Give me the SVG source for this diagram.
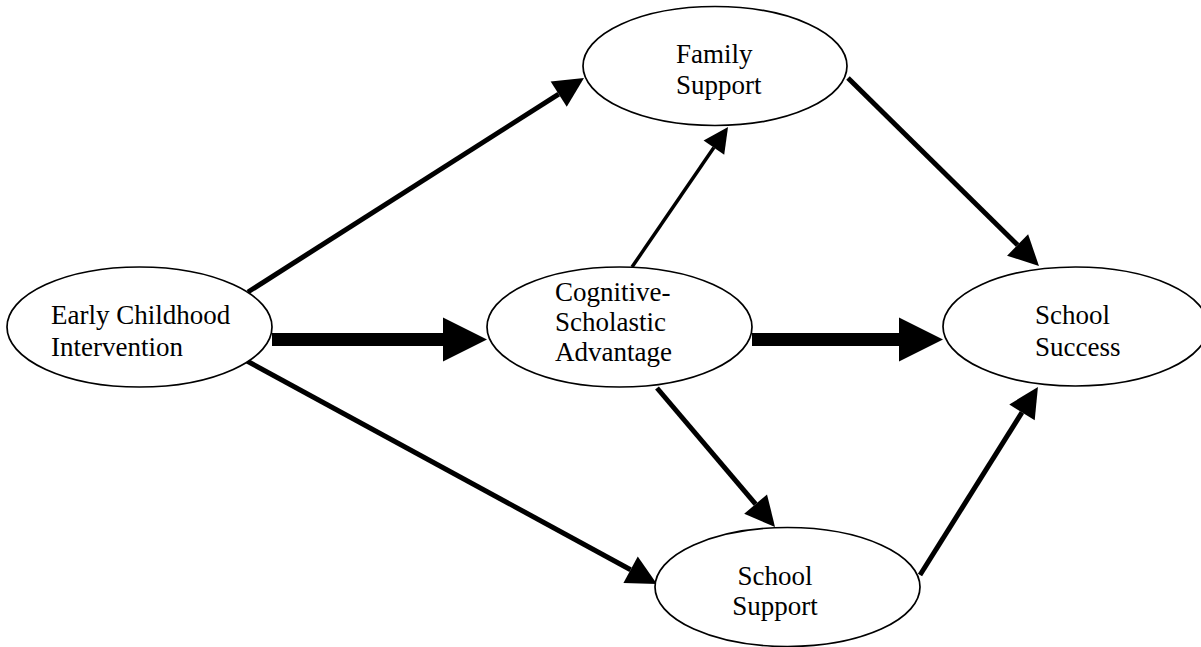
<svg xmlns="http://www.w3.org/2000/svg" width="1201" height="647" viewBox="0 0 1201 647">
<defs>
<style>
.node ellipse{fill:#fff;stroke:#000;stroke-width:1.7}
.node text{font-family:"Liberation Serif","Times New Roman",serif;font-size:27px;fill:#000}
.edge{stroke:#000;fill:none;stroke-linecap:butt}
.med{stroke-width:5;marker-end:url(#head)}
.thin{stroke-width:3.5;marker-end:url(#headS)}
.thick{stroke-width:13;marker-end:url(#headL)}
</style>
<marker id="head" markerUnits="userSpaceOnUse" markerWidth="31" markerHeight="30" refX="0" refY="15" orient="auto" overflow="visible">
<path d="M0,0 L30,15 L0,30 Z" fill="#000"/>
</marker>
<marker id="headS" markerUnits="userSpaceOnUse" markerWidth="26" markerHeight="25" refX="0" refY="12.5" orient="auto" overflow="visible">
<path d="M0,0 L25,12.5 L0,25 Z" fill="#000"/>
</marker>
<marker id="headL" markerUnits="userSpaceOnUse" markerWidth="45" markerHeight="44" refX="0" refY="22" orient="auto" overflow="visible">
<path d="M0,0 L44,22 L0,44 Z" fill="#000"/>
</marker>
</defs>
<rect width="1201" height="647" fill="#fff"/>
<g id="connectors">
<line class="edge med" x1="248" y1="292" x2="558.7" y2="94.1"/>
<line class="edge med" x1="247" y1="361" x2="630.6" y2="569.7"/>
<line class="edge thin" x1="632" y1="267" x2="713.9" y2="147.6"/>
<line class="edge med" x1="657" y1="388" x2="755.6" y2="504.1"/>
<line class="edge med" x1="848" y1="78" x2="1017.6" y2="245"/>
<line class="edge med" x1="920" y1="575" x2="1022" y2="412.4"/>
<line class="edge thick" x1="272" y1="339.5" x2="443" y2="339.5"/>
<line class="edge thick" x1="752" y1="339.5" x2="899" y2="339.5"/>
</g>
<g id="early" class="node">
<ellipse cx="139.5" cy="327" rx="132.5" ry="60"/>
<text x="51" y="324">Early Childhood</text>
<text x="51" y="356">Intervention</text>
</g>
<g id="cognitive" class="node">
<ellipse cx="619.5" cy="327" rx="132.5" ry="60"/>
<text x="555" y="301">Cognitive-</text>
<text x="555" y="331">Scholastic</text>
<text x="555" y="361">Advantage</text>
</g>
<g id="family" class="node">
<ellipse cx="715" cy="66" rx="132" ry="59.5"/>
<text x="676" y="63">Family</text>
<text x="676" y="94">Support</text>
</g>
<g id="schoolsuccess" class="node">
<ellipse cx="1075.5" cy="326.5" rx="132.5" ry="59.5"/>
<text x="1035" y="324">School</text>
<text x="1035" y="356">Success</text>
</g>
<g id="schoolsupport" class="node">
<ellipse cx="787.5" cy="587" rx="132.5" ry="59.5"/>
<text x="775" y="585" text-anchor="middle">School</text>
<text x="775" y="615" text-anchor="middle">Support</text>
</g>
</svg>
